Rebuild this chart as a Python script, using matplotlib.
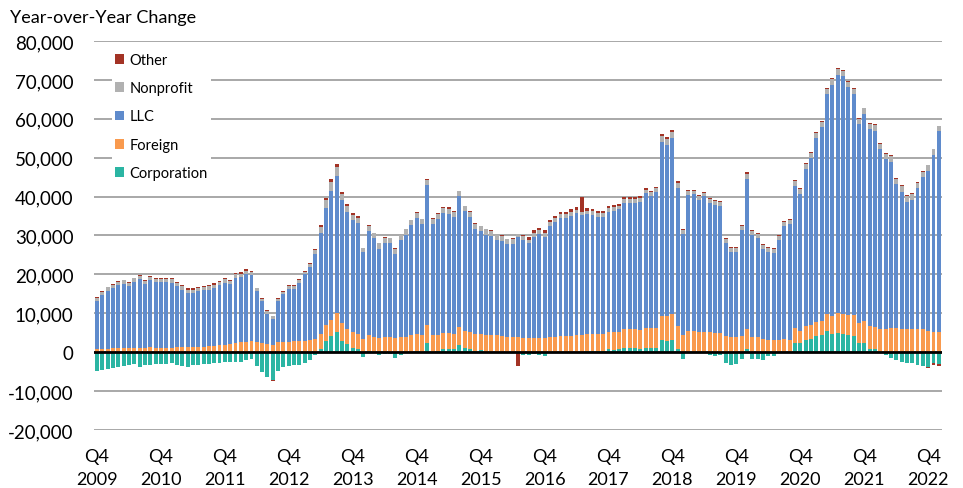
import numpy as np
import matplotlib
matplotlib.use("Agg")
import matplotlib.pyplot as plt

# Monthly bars, Oct 2009 .. Dec 2022
corporation = [
    -4900, -4600, -4400, -4100, -3700, -3500, -3400, -3100, -3800, -3200,
    -3300, -3100, -3000, -3100, -2900, -3400, -3600, -3700, -3400, -3300,
    -3100, -3000, -2900, -2700, -2600, -2500, -2400, -2500, -2100, -1700,
    -3500, -5000, -6400, -7100, -4900, -3800, -3600, -3400, -3200, -2900,
    -2000, -600, 950, 3000, 4100, 5150, 2850, 2000, 1100, 700,
    -1200, 250, 0, -800, -400, -400, -1400, -600, -200, 0,
    250, 0, 2400, 0, 250, 700, 700, 700, 1900, 1100,
    950, 350, 450, 0, 0, 0, 0, 0, 0, 0,
    -750, -600, -500, -750, -1100, 0, 0, 0, 0, 0,
    0, 0, 250, 200, 250, 350, 700, 600, 850, 1100,
    1100, 1000, 800, 1100, 1000, 1100, 3250, 3000, 3250, 950,
    -1650, 0, 0, 0, -300, -800, -1050, -800, -2800, -3200,
    -3000, -1700, 700, -1650, -1700, -1900, -1050, -850, 0, 0,
    0, 2450, 2250, 3250, 3450, 4100, 4400, 5400, 4800, 5000,
    4700, 4400, 4100, 2250, 2400, 700, 700, 0, -600, -1450,
    -2050, -2500, -2750, -2900, -3200, -3450, -3700, -2900, -3150,
]
foreign = [
    900, 900, 900, 1000, 1000, 1100, 1100, 1100, 1200, 1200,
    1300, 1200, 1200, 1200, 1200, 1300, 1300, 1300, 1400, 1400,
    1400, 1500, 1700, 1800, 1900, 2000, 2300, 2500, 2700, 2800,
    2600, 2300, 2000, 1900, 2500, 2600, 2700, 2800, 2900, 3000,
    3100, 3300, 3850, 4100, 4300, 4800, 4700, 4000, 4050, 4100,
    3450, 4300, 3850, 3700, 3850, 3950, 3700, 3950, 4000, 4350,
    4450, 4350, 4700, 4300, 4300, 4350, 4200, 4100, 4500, 4300,
    4350, 4250, 4250, 4450, 4350, 4300, 4100, 3850, 3800, 3800,
    3700, 3600, 3700, 3750, 3600, 3800, 3950, 4100, 4050, 4100,
    4450, 4550, 4550, 4600, 4550, 4450, 4550, 4700, 4350, 4750,
    4750, 4850, 4850, 5000, 5100, 5000, 6150, 6250, 6450, 5750,
    4550, 5400, 5400, 5300, 5200, 5100, 5000, 4900, 4100, 3850,
    3850, 4100, 5300, 3850, 3850, 3450, 3250, 3250, 3200, 3450,
    3250, 3650, 3150, 3600, 3650, 3600, 3600, 4300, 4450, 4950,
    5150, 5100, 5500, 5300, 5600, 6000, 5800, 6000, 6000, 6200,
    6100, 6000, 6000, 5850, 5850, 5850, 5400, 5300, 5150,
]
llc = [
    12250, 13850, 14950, 15550, 16250, 16550, 15950, 17050, 17500, 16300,
    17300, 16800, 16800, 16800, 16700, 15700, 14800, 14000, 13900, 14300,
    14600, 14600, 14900, 15500, 16000, 15500, 16900, 16900, 17500, 17100,
    13100, 10800, 7900, 6700, 10600, 12300, 13600, 13500, 15000, 17000,
    18900, 22000, 25800, 29900, 33100, 35350, 31550, 30100, 28850, 28400,
    22250, 26600, 25400, 22950, 24300, 24000, 21650, 24800, 26250, 28300,
    29850, 28500, 35950, 28750, 29800, 30800, 30700, 29900, 33650, 30850,
    29450, 27150, 26350, 25800, 25500, 24450, 24450, 23900, 23900, 25700,
    25200, 24400, 26000, 26650, 26100, 28700, 29550, 30400, 30450, 31000,
    31250, 30600, 30700, 30500, 30000, 30000, 30850, 31100, 31500, 32550,
    32550, 32550, 33050, 34700, 34000, 35000, 44600, 43950, 45300, 35500,
    25900, 34950, 35150, 33950, 34850, 33250, 32850, 32750, 23950, 21900,
    21900, 27350, 38400, 26300, 25600, 23100, 22600, 22300, 25550, 29100,
    29700, 36550, 35250, 40200, 42750, 47250, 49850, 56650, 59500, 61400,
    61100, 58650, 56750, 51100, 53250, 50550, 50450, 46250, 43650, 42750,
    37150, 35250, 32650, 33300, 36300, 39100, 41300, 45500, 51650,
]
nonprofit = [
    800, 800, 800, 800, 800, 800, 800, 800, 800, 800,
    800, 800, 800, 800, 800, 800, 800, 800, 800, 800,
    800, 800, 800, 800, 800, 800, 800, 800, 800, 800,
    700, 700, 700, 700, 700, 700, 700, 700, 700, 700,
    700, 1000, 1500, 2200, 2300, 2300, 1500, 1400, 1300, 1300,
    1000, 1300, 1300, 1300, 1300, 1300, 1300, 1300, 1300, 1300,
    1300, 1300, 1300, 1300, 1300, 1300, 1300, 1300, 1300, 1300,
    1300, 1300, 1300, 1300, 1300, 1300, 1300, 1300, 1300, 900,
    900, 900, 900, 900, 900, 900, 900, 900, 900, 900,
    900, 950, 900, 900, 900, 900, 1000, 1000, 1000, 1000,
    1000, 1000, 1000, 1000, 1000, 1000, 1500, 1500, 1500, 1200,
    1000, 1000, 1000, 1000, 1000, 1000, 1000, 1000, 1000, 1000,
    1000, 1000, 1500, 1000, 1000, 1000, 1000, 1000, 1000, 1000,
    1000, 1400, 1400, 1400, 1400, 1400, 1400, 1400, 1400, 1400,
    1400, 1400, 1400, 1400, 1400, 1400, 1400, 1400, 1400, 1400,
    1400, 1400, 1400, 1400, 1400, 1400, 1400, 1400, 1400,
]
other = [
    150, 150, 150, 150, 150, 150, 150, 150, 300, 300,
    300, 300, 300, 300, 300, 300, 300, 300, 300, 300,
    300, 300, 300, 300, 300, 300, 300, 300, 300, 300,
    200, 200, 200, -400, 200, 200, 200, 200, 200, 200,
    200, 300, 500, 500, 600, 700, 500, 500, 500, 500,
    200, 150, 150, 150, 150, 150, 150, 150, 150, 150,
    150, 150, 150, 150, 150, 150, 400, 400, 150, 150,
    150, 150, 150, 150, 150, 150, 150, 150, 400, -3600,
    200, 700, 700, 700, 700, 700, 700, 700, 700, 700,
    700, 3800, 700, 700, 700, 700, 400, 400, 400, 400,
    400, 400, 400, 400, 400, 400, 500, 500, 500, 500,
    250, 250, 250, 250, 250, 250, 250, 250, 250, 250,
    250, 250, 500, 250, 250, 250, 250, 250, 250, 250,
    250, 250, 250, 250, 250, 250, 250, 250, 250, 250,
    250, 250, 250, 250, 250, 250, 250, 250, 250, 250,
    250, 250, 250, 250, 250, 250, -300, -300, -300,
]
tick_years = ["2009", "2010", "2011", "2012", "2013", "2014", "2015",
              "2016", "2017", "2018", "2019", "2020", "2021", "2022"]

series = [
    ("Corporation", corporation, "#2bb5a3"),
    ("Foreign", foreign, "#f99a4e"),
    ("LLC", llc, "#5f8bcc"),
    ("Nonprofit", nonprofit, "#b1b1b1"),
    ("Other", other, "#a33325"),
]

FONT = ["Lato", "DejaVu Sans"]
plt.rcParams["font.family"] = FONT

fig = plt.figure(figsize=(9.63, 4.89), dpi=100)
ax = fig.add_axes([94.3 / 963, 1 - 431 / 489, (941.5 - 94.3) / 963, (431 - 42) / 489])

n = len(llc)
x = np.arange(n)
pos = np.zeros(n)
neg = np.zeros(n)
handles = {}
for name, vals, col in series:
    v = np.array(vals, dtype=float)
    bottom = np.where(v >= 0, pos, neg)
    b = ax.bar(x, v, bottom=bottom, width=0.74, color=col, linewidth=0, zorder=2)
    handles[name] = b
    pos = pos + np.where(v >= 0, v, 0)
    neg = neg + np.where(v < 0, v, 0)

ax.set_ylim(-20000, 80000)
ax.set_xlim(-0.5, n - 0.5)
ax.set_yticks(np.arange(-20000, 80001, 10000))
ax.yaxis.set_major_formatter(matplotlib.ticker.FuncFormatter(lambda v, p: f"{int(v):,}"))
ax.grid(axis="y", color="#a8a8a8", lw=1.4, zorder=0)
ax.set_axisbelow(True)
ax.axhline(0, color="black", lw=2.0, zorder=3)
for s in ax.spines.values():
    s.set_visible(False)

ax.set_xticks(np.arange(0, n, 12))
ax.set_xticklabels([f"Q4\n{y}" for y in tick_years], linespacing=1.5)
ax.tick_params(axis="x", length=0, pad=13, labelsize=13)
ax.tick_params(axis="y", length=0, pad=15, labelsize=13.5)

fig.text(10 / 963, 1 - 18 / 489, "Year-over-Year Change", fontsize=13, va="center", ha="left")

order = ["Other", "Nonprofit", "LLC", "Foreign", "Corporation"]
leg = ax.legend([handles[k] for k in order], order, loc="upper left",
                bbox_to_anchor=(112 / 963, 1 - 51 / 489), bbox_transform=fig.transFigure,
                frameon=True, fontsize=10.5, handlelength=0.65, handleheight=0.65,
                handletextpad=0.35, labelspacing=0.98, borderpad=0.2, borderaxespad=0)
leg.get_frame().set_facecolor("white")
leg.get_frame().set_edgecolor("none")
leg.get_frame().set_alpha(1)

fig.savefig("out.png", dpi=100)
